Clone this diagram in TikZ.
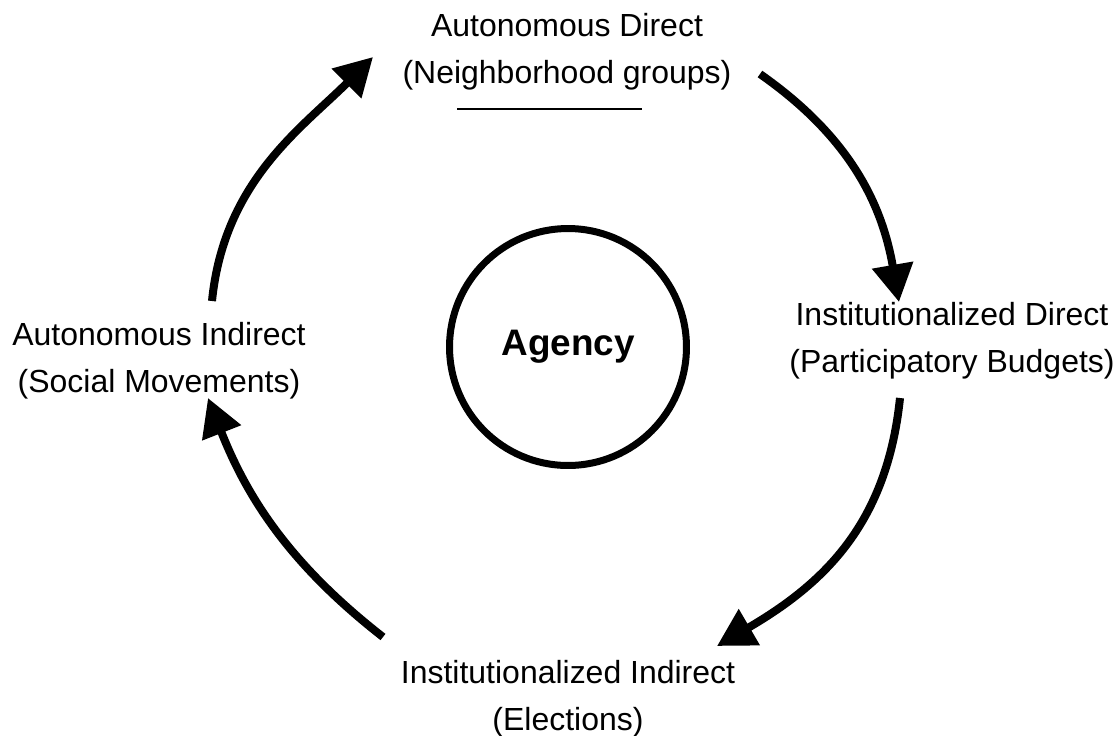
\documentclass[tikz,border=0pt]{standalone}
\usepackage{fontspec}
\setmainfont{Liberation Sans}
\usetikzlibrary{arrows.meta}

\begin{document}
\begin{tikzpicture}[x=0.02cm, y=-0.02cm, line join=round,
    lbl/.style={align=center, anchor=base, inner sep=0pt,
      font=\fontsize{18.2}{26.7}\selectfont},
    flow/.style={line width=0.16cm, -{Triangle[length=0.75cm, width=0.8cm]}},
    hub/.style={circle, draw, line width=0.14cm, minimum size=4.74cm,
      inner sep=0pt, font=\fontsize{21}{25}\selectfont\bfseries}]
  \useasboundingbox (0,0) rectangle (1120,735);
  % centre
  \node[hub] (agency) at (568,347) {Agency};
  % the four forms (base = last line)
  \node[lbl] (autdir) at (567,83) {Autonomous Direct\\(Neighborhood groups)};
  \node[lbl] (instdir) at (952,372) {Institutionalized Direct\\(Participatory Budgets)};
  \node[lbl] (instind) at (568,730) {Institutionalized Indirect\\(Elections)};
  \node[lbl] (autind) at (159,392) {Autonomous Indirect\\(Social Movements)};
  \draw[line width=0.03cm] (457,109) -- (642,109);
  % ends of the cycle arrows
  \path
    (212,301) coordinate (t1) (373,57) coordinate (h1)
    (760,74) coordinate (t2) (899,302) coordinate (h2)
    (900,398) coordinate (t3) (717,646) coordinate (h3)
    (383,637) coordinate (t4) (208,398) coordinate (h4);
  \draw[flow] (t1) .. controls (224,181) and (302,128) .. (h1);
  \draw[flow] (t2) .. controls (850,137) and (882,204) .. (h2);
  \draw[flow] (t3) .. controls (887,523) and (825,583) .. (h3);
  \draw[flow] (t4) .. controls (292,566) and (248,500) .. (h4);
\end{tikzpicture}
\end{document}
